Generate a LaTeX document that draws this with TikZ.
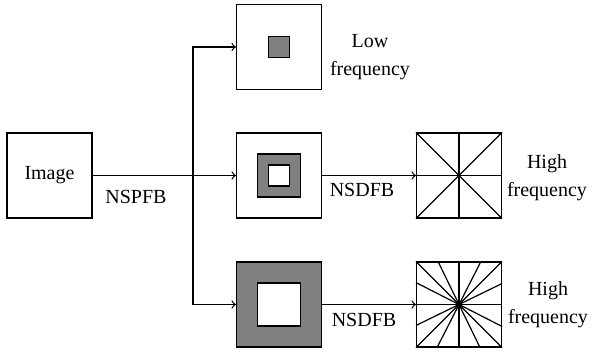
\documentclass[tikz,border=0pt]{standalone}
\usepackage{fontspec}
\setmainfont{Liberation Serif}
\usetikzlibrary{positioning}

\tikzset{
  box/.style={draw, line width=0.6pt, minimum size=42.5pt, inner sep=0pt},
  core/.style={draw, line width=0.6pt, inner sep=0pt},
  lbl/.style={align=center, font=\fontsize{10}{14}\selectfont}
}

\begin{document}
\begin{tikzpicture}[x=0.5pt, y=-0.5pt, >=to, line width=0.6pt]
\useasboundingbox (0,0) rectangle (597,351);

% input image
\node[box] (img) at (49.5,175.5) {Image};

% NSPFB outputs
\node[box] (low) at (279,47) {};
\node[box] (mid) at (279,175.5) {};
\node[box, fill=gray] (bot) at (279,304.5) {};
\node[core, fill=gray, minimum size=10.5pt] (lowcore) at (low) {};
\node[core, fill=gray, minimum size=21.5pt] (midring) at (mid) {};
\node[core, fill=white, minimum size=10.5pt] (midcore) at (mid) {};
\node[core, fill=white, minimum size=21.5pt] (botcore) at (bot) {};

% NSDFB outputs
\node[box] (fanA) at (459,175.5) {};
\node[box] (fanB) at (459,304.5) {};
\foreach \p in {north, north east, east, south east, south, south west, west, north west}
{
    \draw (fanA.center)--(fanA.\p);
}
\foreach \a in {0,26.57,45,63.43,90,116.57,135,153.43,180,206.57,225,243.43,270,296.57,315,333.43}
{
    \draw (fanB.center)--(fanB.\a);
}

% connectors
\coordinate (split) at (193,175.5);
\draw[->] (img)--(mid);
\draw[->] (split)|-(low);
\draw[->] (split)|-(bot);
\draw[->] (mid)--(fanA);
\draw[->] (bot)--(fanB);

% labels
\node[lbl] (nspfb) at (136,197) {NSPFB};
\node[lbl] (nsdfbA) at (362,190) {NSDFB};
\node[lbl] (nsdfbB) at (364,320) {NSDFB};
\node[lbl] (lowtxt) at (370,57) {Low\\frequency};
\node[lbl] (hightxtA) at (547,178) {High\\frequency};
\node[lbl] (hightxtB) at (548,305) {High\\frequency};
\end{tikzpicture}
\end{document}
